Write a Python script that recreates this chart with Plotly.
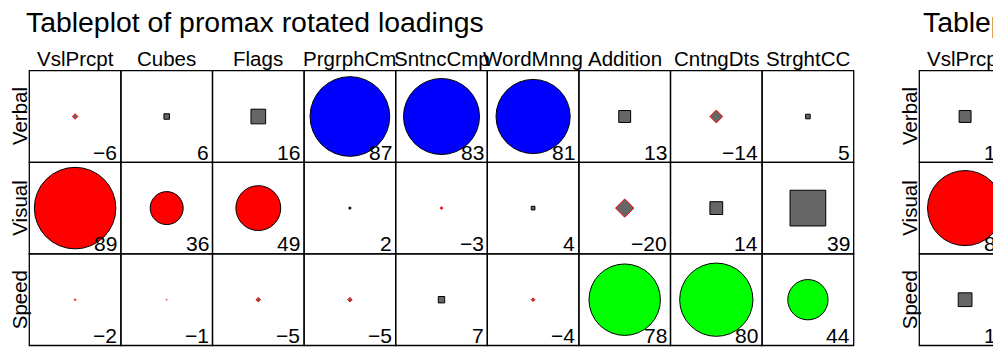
import plotly.graph_objects as go

# ---- factor loadings (x100) ----
factors = ["Verbal", "Visual", "Speed"]

promax_variables = ["VslPrcpt", "Cubes", "Flags", "PrgrphCm", "SntncCmp",
                    "WordMnng", "Addition", "CntngDts", "StrghtCC"]
promax_verbal = [-6, 6, 16, 87, 83, 81, 13, -14, 5]
promax_visual = [89, 36, 49, 2, -3, 4, -20, 14, 39]
promax_speed = [-2, -1, -5, -5, 7, -4, 78, 80, 44]
promax_assigned = ["Visual", "Visual", "Visual", "Verbal", "Verbal",
                   "Verbal", "Speed", "Speed", "Speed"]

varimax_variables = ["VslPrcpt"]
varimax_verbal = [13]
varimax_visual = [82]
varimax_speed = [15]
varimax_assigned = ["Visual"]

factor_colors = {"Verbal": "#0000FF", "Visual": "#FF0000", "Speed": "#00FF00"}
NEUTRAL_FILL = "#666666"

# ---- geometry (pixels) ----
W, H = 993, 351
CELL = 91.6          # side of one table cell
GRID_TOP = 70.7      # top edge of the table
PAD = 0.03           # extra axis room so border lines are not clipped
FONT = "Liberation Sans, Arial, Helvetica, sans-serif"
TITLE_SIZE, HEAD_SIZE, VALUE_SIZE = 28.4, 20.5, 21
MID = 0.3465         # baseline -> text-box centre, in em

panels = [
    dict(title="Tableplot of promax rotated loadings", left=29.3, title_left=24.8,
         variables=promax_variables,
         rows=[promax_verbal, promax_visual, promax_speed],
         assigned=promax_assigned, xa="x", ya="y"),
    dict(title="Tableplot of varimax rotated loadings", left=919.3, title_left=921.5,
         variables=varimax_variables,
         rows=[varimax_verbal, varimax_visual, varimax_speed],
         assigned=varimax_assigned, xa="x2", ya="y2"),
]


def fmt(v):
    return ("\u2212" + str(abs(v))) if v < 0 else str(v)


fig = go.Figure()
shapes, annotations = [], []
layout_axes = {}

y_dom = [1 - (GRID_TOP + 3 * CELL + PAD * CELL) / H, 1 - (GRID_TOP - PAD * CELL) / H]

for k, p in enumerate(panels):
    n = len(p["variables"])
    left = p["left"]
    right_px = min(W, left + n * CELL + PAD * CELL)
    x_dom = [(left - PAD * CELL) / W, right_px / W]
    x_name = "xaxis" if k == 0 else f"xaxis{k + 1}"
    y_name = "yaxis" if k == 0 else f"yaxis{k + 1}"
    layout_axes[x_name] = dict(domain=x_dom, range=[-PAD, (right_px - left) / CELL],
                               visible=False, fixedrange=True, anchor=p["ya"])
    layout_axes[y_name] = dict(domain=y_dom, range=[3 + PAD, -PAD],
                               visible=False, fixedrange=True, anchor=p["xa"])

    # hover carrier on the cell centres
    cx, cy, tx = [], [], []
    for i, f in enumerate(factors):
        for j, var in enumerate(p["variables"]):
            cx.append(j + 0.5)
            cy.append(i + 0.5)
            tx.append(f"{var} / {f}: {fmt(p['rows'][i][j])}")
    fig.add_trace(go.Scatter(x=cx, y=cy, mode="markers", marker=dict(size=1, opacity=0),
                             hovertext=tx, hoverinfo="text", showlegend=False,
                             xaxis=p["xa"], yaxis=p["ya"]))

    # table cells
    for i in range(len(factors)):
        for j in range(n):
            shapes.append(dict(type="rect", xref=p["xa"], yref=p["ya"],
                               x0=j, x1=j + 1, y0=i, y1=i + 1,
                               line=dict(color="black", width=1.3), layer="below"))

    # cell glyphs: circle for the assigned factor, square for other positive,
    # diamond for negative loadings; size proportional to |loading|
    for i, f in enumerate(factors):
        for j in range(n):
            v = p["rows"][i][j]
            h = abs(v) / 200.0
            x0, y0 = j + 0.5, i + 0.5
            if p["assigned"][j] == f:
                shapes.append(dict(type="circle", xref=p["xa"], yref=p["ya"],
                                   x0=x0 - h, x1=x0 + h, y0=y0 - h, y1=y0 + h,
                                   fillcolor=factor_colors[f],
                                   line=dict(color="black", width=1)))
            elif v >= 0:
                shapes.append(dict(type="rect", xref=p["xa"], yref=p["ya"],
                                   x0=x0 - h, x1=x0 + h, y0=y0 - h, y1=y0 + h,
                                   fillcolor=NEUTRAL_FILL,
                                   line=dict(color="black", width=1)))
            else:
                path = (f"M {x0 - h},{y0} L {x0},{y0 - h} L {x0 + h},{y0} "
                        f"L {x0},{y0 + h} Z")
                shapes.append(dict(type="path", xref=p["xa"], yref=p["ya"], path=path,
                                   fillcolor=NEUTRAL_FILL,
                                   line=dict(color="#FF0000", width=1)))

    # value labels in the lower-right corner of each cell
    for i in range(len(factors)):
        for j in range(n):
            xr = left + (j + 1) * CELL - 2.7
            yb = GRID_TOP + (i + 1) * CELL - 3.0
            annotations.append(dict(xref="paper", yref="paper",
                                    x=xr / W, y=1 - (yb - MID * VALUE_SIZE) / H,
                                    xanchor="right", yanchor="middle", showarrow=False,
                                    borderpad=0, text=fmt(p["rows"][i][j]),
                                    font=dict(family=FONT, size=VALUE_SIZE, color="black")))

    # column headers
    for j, var in enumerate(p["variables"]):
        annotations.append(dict(xref="paper", yref="paper",
                                x=(left + (j + 0.5) * CELL) / W,
                                y=1 - (65.7 - MID * HEAD_SIZE) / H,
                                xanchor="center", yanchor="middle", showarrow=False,
                                borderpad=0, text=var,
                                font=dict(family=FONT, size=HEAD_SIZE, color="black")))

    # row labels
    for i, f in enumerate(factors):
        annotations.append(dict(xref="paper", yref="paper",
                                x=(left - 2.6 - MID * HEAD_SIZE) / W,
                                y=1 - (GRID_TOP + (i + 0.5) * CELL) / H,
                                xanchor="center", yanchor="middle", showarrow=False,
                                textangle=-90, borderpad=0, text=f,
                                font=dict(family=FONT, size=HEAD_SIZE, color="black")))

    # panel title
    annotations.append(dict(xref="paper", yref="paper",
                            x=p["title_left"] / W, y=1 - (31.7 - MID * TITLE_SIZE) / H,
                            xanchor="left", yanchor="middle", showarrow=False,
                            borderpad=0, text=p["title"],
                            font=dict(family=FONT, size=TITLE_SIZE, color="black")))

fig.update_layout(
    width=W, height=H,
    margin=dict(l=0, r=0, t=0, b=0),
    paper_bgcolor="white", plot_bgcolor="white",
    showlegend=False,
    shapes=shapes, annotations=annotations,
    **layout_axes,
)

fig.write_html("out.html")
